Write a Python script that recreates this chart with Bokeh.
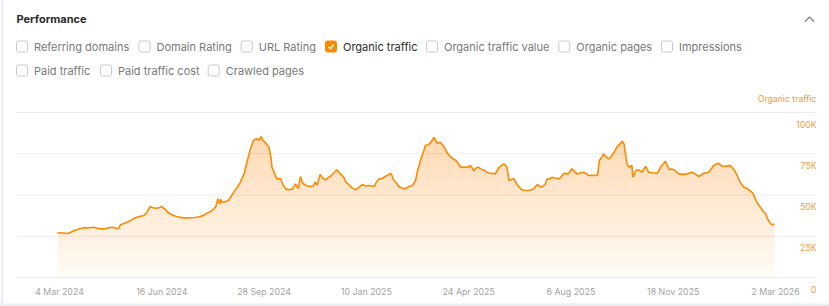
import numpy as np
from datetime import datetime, timedelta
from bokeh.plotting import figure
from bokeh.models import Range1d
from bokeh.core.properties import value
from bokeh.embed import file_html
from bokeh.resources import INLINE

# ---------------- data ----------------
START = datetime(2024, 3, 4)
day_offsets = [-2, 3, 9, 15, 19, 25, 29, 35, 40, 45, 50, 54, 57, 60, 62, 69, 73, 77, 81, 86,
               89, 92, 95, 98, 101, 104, 108, 111, 116, 119, 123, 128, 133, 138, 143, 147, 150, 154, 157, 159,
               161, 163, 164, 165, 169, 172, 176, 180, 184, 188, 191, 194, 197, 199, 201, 203, 205, 207, 209, 213,
               215, 216, 219, 221, 225, 227, 230, 233, 237, 240, 242, 243, 245, 247, 248, 252, 255, 258, 260, 262,
               265, 268, 271, 273, 276, 279, 282, 286, 289, 291, 294, 297, 301, 304, 308, 311, 315, 320, 322, 325,
               328, 331, 334, 337, 340, 343, 345, 350, 353, 355, 359, 362, 364, 367, 370, 372, 375, 377, 381, 384,
               387, 390, 392, 395, 398, 400, 403, 405, 408, 411, 415, 418, 421, 424, 426, 429, 431, 434, 437, 440,
               443, 447, 449, 452, 455, 457, 460, 462, 465, 469, 472, 476, 479, 482, 486, 489, 492, 494, 496, 498,
               501, 504, 508, 510, 513, 516, 518, 521, 524, 526, 530, 533, 536, 538, 542, 547, 549, 552, 553, 556,
               559, 561, 564, 567, 569, 572, 574, 577, 579, 582, 583, 586, 589, 592, 596, 599, 603, 608, 611, 614,
               616, 620, 622, 625, 627, 630, 634, 638, 643, 647, 650, 653, 655, 660, 663, 665, 668, 670, 674, 678,
               682, 686, 689, 692, 696, 699, 701, 705, 709, 713, 715, 718, 720, 723, 725, 727]
traffic_k = [27.1, 27.0, 26.7, 28.5, 29.2, 30.1, 30.0, 30.5, 29.6, 29.3, 30.2, 30.5, 29.8, 29.5, 31.9, 33.5, 34.8, 36.2, 37.0, 37.6,
             39.5, 43.0, 42.3, 42.0, 42.3, 43.0, 41.0, 39.0, 37.6, 37.0, 36.5, 36.0, 36.2, 36.4, 37.0, 37.8, 39.0, 40.2, 41.6, 43.0,
             47.7, 44.5, 47.5, 45.6, 46.0, 46.7, 50.7, 54.0, 57.8, 63.5, 70.9, 77.5, 83.0, 83.8, 84.0, 83.2, 85.4, 83.0, 82.0, 79.0,
             73.0, 66.8, 62.5, 59.8, 59.8, 56.5, 53.7, 53.2, 53.7, 56.8, 54.5, 54.1, 61.2, 57.5, 56.8, 55.5, 55.1, 55.5, 57.8, 56.0,
             62.4, 60.0, 59.2, 60.5, 61.5, 63.5, 65.3, 62.5, 60.8, 58.0, 56.4, 54.5, 53.1, 54.5, 56.4, 55.5, 55.8, 55.1, 57.5, 59.8,
             60.0, 61.2, 62.0, 63.2, 58.8, 57.0, 55.1, 53.7, 54.2, 55.1, 55.8, 58.8, 64.5, 70.9, 76.0, 80.0, 80.5, 81.4, 85.0, 81.4,
             82.0, 80.0, 78.0, 75.0, 72.9, 72.0, 70.9, 69.5, 66.8, 67.0, 66.8, 67.9, 64.8, 66.5, 66.8, 65.5, 65.3, 64.0, 63.2, 63.0,
             62.8, 66.8, 67.8, 68.9, 66.8, 58.8, 59.5, 59.8, 56.5, 53.7, 52.9, 52.7, 53.0, 53.7, 56.4, 54.7, 55.5, 56.8, 59.8, 59.5,
             60.8, 60.2, 59.8, 61.0, 63.2, 62.8, 63.2, 65.9, 64.0, 62.8, 63.5, 63.8, 62.8, 61.8, 62.0, 61.8, 70.9, 73.5, 75.0, 73.0,
             71.9, 73.5, 75.9, 79.4, 80.5, 82.6, 81.0, 68.9, 66.8, 67.9, 60.8, 64.8, 65.3, 63.8, 67.3, 63.8, 63.5, 63.2, 66.8, 69.0,
             70.5, 65.3, 65.8, 65.3, 64.0, 62.8, 62.5, 62.8, 63.8, 62.5, 61.2, 62.3, 63.2, 63.8, 66.0, 67.9, 68.8, 69.3, 67.3, 67.5,
             67.9, 65.3, 61.8, 57.8, 54.7, 54.0, 53.1, 51.1, 45.6, 42.2, 40.5, 38.6, 35.5, 32.5, 32.0, 32.5]
tick_labels = ["4 Mar 2024", "16 Jun 2024", "28 Sep 2024", "10 Jan 2025",
               "24 Apr 2025", "6 Aug 2025", "18 Nov 2025", "2 Mar 2026"]
tick_step_days = 104
y_ticks = [0, 25000, 50000, 75000, 100000]
y_tick_labels = ["0", "25K", "50K", "75K", "100K"]
series_name = "Organic traffic"
row1_metrics = ["Referring domains", "Domain Rating", "URL Rating", "Organic traffic",
                "Organic traffic value", "Organic pages", "Impressions"]
row2_metrics = ["Paid traffic", "Paid traffic cost", "Crawled pages"]
checked_metric = "Organic traffic"

# ---------------- layout helpers ----------------
W, H = 829, 306
EPOCH = datetime(1970, 1, 1)
def ms(d):
    return (d - EPOCH).total_seconds() * 1000.0

PPD = 0.9835                  # pixels per day
MS_PER_PX = 86400000.0 / PPD
TICK0_PX = 59.0
BASE_PY = 277.0
VAL_PER_PX = 100000.0 / 165.0
x_start = ms(START) - TICK0_PX * MS_PER_PX
x_end = x_start + W * MS_PER_PX
y_start = -(H - BASE_PY) * VAL_PER_PX
y_end = BASE_PY * VAL_PER_PX

def X(px):
    return x_start + px * MS_PER_PX
def Y(py):
    return (BASE_PY - py) * VAL_PER_PX

p = figure(width=W, height=H, x_range=Range1d(x_start, x_end), y_range=Range1d(y_start, y_end),
           x_axis_type=None, y_axis_type=None, output_backend="svg", toolbar_location=None,
           min_border=0, outline_line_color=None, background_fill_color="white",
           border_fill_color="white")
p.grid.visible = False

FONT = value("Inter")

# page chrome: left and bottom grey strips
p.quad(left=[X(0)], right=[X(3)], bottom=[Y(306)], top=[Y(0)], fill_color="#eceef1", line_color=None)
p.quad(left=[X(0)], right=[X(829)], bottom=[Y(306)], top=[Y(303)], fill_color="#eceef1", line_color=None)

# title + chevron
p.text(x=[X(16)], y=[Y(18.5)], text=["Performance"], text_font=FONT, text_font_size="11px",
       text_font_style="bold", text_color="#2b2b2b", text_baseline="middle", text_align="left")
p.line(x=[X(804.5), X(809), X(813.5)], y=[Y(21), Y(16.5), Y(21)], line_color="#8c8c8c", line_width=1.5)

# checkbox rows
row1_box_px = [16, 138.5, 240.7, 325, 426, 558.3, 661]
row2_box_px = [16, 100, 207.7]
BOX = 11
def checkbox_row(labels, box_px, py):
    for lab, bx in zip(labels, box_px):
        on = lab == checked_metric
        p.rect(x=[X(bx + BOX / 2)], y=[Y(py)], width=BOX, height=BOX, width_units="screen",
               height_units="screen", fill_color="#ff8a00" if on else "white",
               line_color="#ff8a00" if on else "#c9cbcf", line_width=1, border_radius=2)
        if on:
            p.line(x=[X(bx + 2.8), X(bx + 4.8), X(bx + 8.3)], y=[Y(py + 0.3), Y(py + 2.2), Y(py - 2.0)],
                   line_color="white", line_width=1.4)
        p.text(x=[X(bx + 17.5)], y=[Y(py)], text=[lab], text_font=FONT, text_font_size="11px",
               text_color="#2b2b2b" if on else "#7a7a7a", text_baseline="middle", text_align="left")

checkbox_row(row1_metrics, row1_box_px, 46)
checkbox_row(row2_metrics, row2_box_px, 70)

# ---------------- chart ----------------
xs = np.array([ms(START + timedelta(days=d)) for d in day_offsets])
vals = np.array(traffic_k) * 1000.0

# vertical gradient fill (stacked translucent layers)
p.varea(x=xs, y1=np.zeros_like(vals), y2=vals, fill_color="#ff8a00", fill_alpha=0.035)
for lev in np.arange(2500, 92500, 2500):
    p.varea(x=xs, y1=np.minimum(vals, lev), y2=vals, fill_color="#ff8a00", fill_alpha=0.0095)

# gridlines
p.segment(x0=[X(16)] * len(y_ticks), x1=[X(816)] * len(y_ticks), y0=y_ticks, y1=y_ticks,
          line_color="#000000", line_alpha=0.07, line_width=1)

# series line
p.line(x=xs, y=vals, line_color="#ff8a00", line_width=1.6)

# right-side y labels (drawn just below their gridlines)
p.text(x=[X(816)] * len(y_ticks), y=[t - 12 * VAL_PER_PX for t in y_ticks], text=y_tick_labels,
       text_font=FONT, text_font_size="8.7px", text_color="#f5a04a", text_align="right",
       text_baseline="middle")
p.text(x=[X(816)], y=[Y(98)], text=[series_name], text_font=FONT, text_font_size="8.7px",
       text_color="#f39a3e", text_align="right", text_baseline="middle")

# x tick labels
tick_x = [ms(START + timedelta(days=tick_step_days * i)) for i in range(len(tick_labels))]
p.text(x=tick_x, y=[Y(291)] * len(tick_x), text=tick_labels, text_font=FONT, text_font_size="8.8px",
       text_color="#a3a3a3", text_align="center", text_baseline="middle")

open("out.html", "w").write(file_html(p, INLINE))
